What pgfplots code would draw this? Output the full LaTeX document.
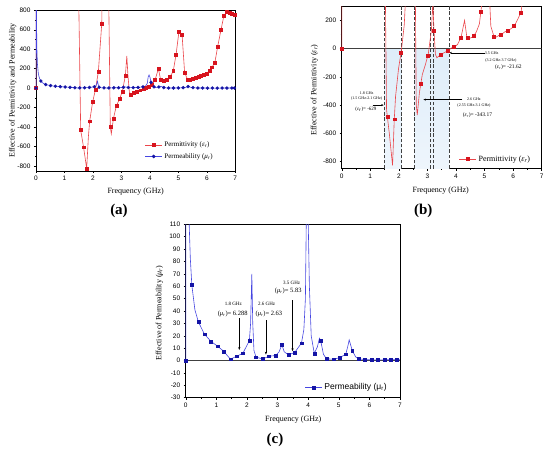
\documentclass[border=0pt]{standalone}
\usepackage{fontspec}
\setmainfont{Liberation Serif}
\setsansfont{Liberation Sans}
\usepackage{pgfplots}
\usepackage{pgfplotstable}
\pgfplotsset{compat=1.18}
\usetikzlibrary{arrows.meta}

\definecolor{cRedLine}{RGB}{235,70,75}
\definecolor{cRedMark}{RGB}{215,20,30}
\definecolor{cBlueLine}{RGB}{70,70,225}
\definecolor{cBlueMark}{RGB}{20,20,165}
\definecolor{cShade}{RGB}{222,237,249}
\definecolor{cShadeB}{RGB}{238,245,252}

% permittivity curve (shared by a and b)
\pgfplotstableread{
f v
0 0
0.02 3000
1.45 3000
1.47 1500
1.57 -432
1.67 -607
1.78 -827
1.84 -500
1.885 -340
1.99 -141
2.085 -20
2.19 168
2.31 665
2.36 2000
2.50 2000
2.53 1500
2.61 -398
2.645 -470
2.72 -312
2.82 -185
2.93 -113
3.03 -38
3.14 130
3.19 330
3.23 128
3.28 -40
3.33 -65
3.43 -48
3.54 -34
3.66 -21
3.77 -7
3.86 7
3.97 14
4.06 31
4.18 82
4.30 200
4.38 82
4.47 72
4.59 82
4.71 117
4.82 175
4.92 345
5.02 580
5.13 552
5.22 158
5.33 85
5.41 82
5.50 93
5.61 103
5.70 117
5.79 127
5.90 137
5.99 151
6.09 178
6.18 215
6.28 260
6.38 425
6.50 604
6.60 744
6.70 785
6.79 779
6.88 761
7.00 752
}\tEpsLine

% permittivity markers, panel (a)
\pgfplotstableread{
f v
0 0
1.57 -432
1.67 -607
1.78 -827
1.885 -340
1.99 -141
2.085 -20
2.19 168
2.31 665
2.61 -398
2.72 -312
2.82 -185
2.93 -113
3.03 -38
3.14 130
3.33 -65
3.43 -48
3.54 -34
3.66 -21
3.77 -7
3.86 7
3.97 14
4.06 31
4.18 82
4.30 200
4.38 82
4.47 72
4.59 82
4.71 117
4.82 175
4.92 345
5.02 580
5.13 552
5.22 158
5.33 85
5.41 82
5.50 93
5.61 103
5.70 117
5.79 127
5.90 137
5.99 151
6.09 178
6.18 215
6.28 260
6.38 425
6.50 604
6.60 744
6.70 785
6.79 779
6.88 761
6.97 753
}\tEpsMarkA

% permittivity markers, panel (b)
\pgfplotstableread{
f v
0 0
1.60 -485
1.84 -500
2.08 -26
2.77 -248
3.01 -53
3.23 128
3.47 -43
3.70 -16
3.93 12
4.17 78
4.40 80
4.63 94
4.87 260
5.33 85
5.57 100
5.80 128
6.03 160
6.27 256
}\tEpsMarkB

% permeability curve (shared by a and c)
\pgfplotstableread{
f v
0 0
0.008 1600
0.015 830
0.03 415
0.05 250
0.08 156
0.11 113
0.15 83
0.2 61
0.3 41
0.41 31.5
0.61 21.3
0.83 15.4
1.04 11.6
1.24 7.5
1.46 1.1
1.67 3.5
1.87 5.9
2.08 16.2
2.12 30
2.16 70
2.19 30
2.23 8
2.3 2.7
2.52 1.3
2.72 3.5
2.93 4
3.05 7
3.14 12.7
3.22 7
3.36 4.6
3.56 6.5
3.78 14
3.86 25
3.91 50
3.94 115
3.97 135
4.0 115
4.04 60
4.1 20
4.2 5.7
4.3 11
4.37 18
4.41 15.9
4.5 5
4.6 1.3
4.82 1.1
5.02 2.2
5.23 5.1
5.3 12
5.34 16.7
5.44 8.1
5.55 3
5.66 1.3
5.86 0.8
6.08 0.5
6.28 0.5
6.5 0.5
6.7 0.8
6.9 0.8
7.0 0.8
}\tMuLine

% permeability markers, panel (a)
\pgfplotstableread{
f v
0 0
0.171 73
0.341 37
0.512 26
0.683 19.3
0.854 15
1.024 11.8
1.195 8.5
1.366 4
1.537 2
1.707 3.8
1.878 6.5
2.049 14
2.22 9
2.39 2
2.561 1.8
2.732 3.5
2.902 4
3.073 8.5
3.244 6.5
3.415 5
3.585 7
3.756 13
4.04 60
4.146 13
4.317 12
4.488 6
4.659 1.3
4.829 1.1
5.0 2.1
5.171 4.3
5.341 16
5.512 5
5.683 1.2
5.854 0.8
6.024 0.6
6.195 0.5
6.366 0.5
6.537 0.5
6.707 0.8
6.878 0.8
6.97 0.8
}\tMuMarkA

% permeability markers, panel (c)
\pgfplotstableread{
f v
0 0
0.2 61
0.41 31.5
0.61 21.3
0.83 15.4
1.04 11.6
1.24 7.5
1.46 1.1
1.67 3.5
1.87 5.9
2.08 16.2
2.3 2.7
2.52 1.3
2.72 3.5
2.93 4
3.14 12.7
3.36 4.6
3.56 6.5
3.78 14
3.97 135
4.2 5.7
4.41 15.9
4.6 1.3
4.82 1.1
5.02 2.2
5.23 5.1
5.44 8.1
5.66 1.3
5.86 0.8
6.08 0.5
6.28 0.5
6.5 0.5
6.7 0.8
6.9 0.8
}\tMuMarkC

\pgfplotsset{
  panel/.style={
    scale only axis, anchor=north west,
    xmin=0, xmax=7, xtick={0,1,...,7}, minor x tick num=1,
    tick align=outside, tick pos=left,
    major tick length=2pt, minor tick length=1.2pt,
    every tick/.style={black, line width=0.4pt},
    axis line style={line width=0.5pt},
    ticklabel style={font=\sffamily\fontsize{6.5}{7}\selectfont},
    /pgf/number format/assume math mode=true,
    label style={font=\fontsize{8}{9}\selectfont},
    legend cell align=left,
    legend style={draw=none, fill=none, inner sep=1pt, row sep=1pt},
  },
  epsline/.style={color=cRedLine, line width=0.6pt, no marks},
  epsmark/.style={only marks, mark=square*, mark size=1.45pt, color=cRedMark},
  muline/.style={color=cBlueLine, line width=0.6pt, no marks},
}

\begin{document}
\begin{tikzpicture}
\path[use as bounding box] (0,0) rectangle (550pt,-454pt);

% ---------------- (a) ----------------
\begin{axis}[panel,
  at={(36pt,-10.3pt)}, width=199.3pt, height=160.5pt,
  ymin=-850, ymax=800, ytick={-800,-600,...,800}, minor y tick num=1,
  xlabel={Frequency (GHz)},
  ylabel={Effective of Permittivity and Permeability},
  xlabel style={at={(axis description cs:0.5,-0.13)}, anchor=center},
  ylabel style={at={(axis description cs:-0.117,0.5)}, anchor=center},
  legend style={at={(0.54,0.2)}, anchor=north west, font=\fontsize{7}{8}\selectfont},
]
\addlegendimage{color=cRedLine, line width=0.6pt, mark=square*, mark size=1.45pt, mark options={color=cRedMark}}
\addlegendentry{Permittivity (\textit{ε}\textsubscript{\textit{r}})}
\addlegendimage{color=cBlueLine, line width=0.6pt, mark=*, mark size=1.5pt, mark options={color=cBlueMark}}
\addlegendentry{Permeability (\textit{μ}\textsubscript{\textit{r}})}
\addplot[epsline, forget plot] table[x=f, y=v] {\tEpsLine};
\addplot[epsmark, forget plot] table[x=f, y=v] {\tEpsMarkA};
\addplot[muline, forget plot] table[x=f, y=v] {\tMuLine};
\addplot[only marks, mark=*, mark size=1.5pt, color=cBlueMark, forget plot] table[x=f, y=v] {\tMuMarkA};
\end{axis}

% ---------------- (b) ----------------
\begin{axis}[panel,
  at={(341.7pt,-6.2pt)}, width=200pt, height=162.5pt,
  ymin=-850, ymax=300, ytick={-800,-600,...,200}, minor y tick num=1,
  xlabel={Frequency (GHz)},
  ylabel={Effective of Permittivity (\textit{ε}\textsubscript{\textit{r}})},
  xlabel style={at={(axis description cs:0.495,-0.137)}, anchor=center},
  ylabel style={at={(axis description cs:-0.137,0.484)}, anchor=center},
  legend style={at={(0.58,0.1)}, anchor=north west, font=\fontsize{8}{9}\selectfont},
]
\fill[top color=cShade, bottom color=cShadeB] (axis cs:1.5,0) rectangle (axis cs:2.1,-850);
\fill[top color=cShade, bottom color=cShadeB] (axis cs:2.55,0) rectangle (axis cs:3.75,-850);
\draw[black!75, line width=0.7pt] (axis cs:0,0) -- (axis cs:7,0);
\foreach \xx in {1.5,2.1,2.55,3.1,3.22,3.75}{
  \edef\tmp{\noexpand\draw[black!75, line width=0.5pt, dash pattern=on 3.5pt off 1.8pt] (axis cs:\xx,-850) -- (axis cs:\xx,300);}\tmp
}
\addlegendimage{color=cRedLine, line width=0.6pt, mark=square*, mark size=1.45pt, mark options={color=cRedMark}}
\addlegendentry{Permittivity (\textit{ε}\textsubscript{\textit{r}})}
\addplot[epsline, forget plot] table[x=f, y=v] {\tEpsLine};
\addplot[epsmark, forget plot] table[x=f, y=v] {\tEpsMarkB};
% annotations
\node[font=\fontsize{4}{4.5}\selectfont] at (axis cs:0.875,-314) {1.8 GHz};
\node[font=\fontsize{4}{4.5}\selectfont] at (axis cs:0.875,-356) {(1.5 GHz-2.1 GHz)};
\node[font=\fontsize{5}{6}\selectfont] at (axis cs:0.85,-432) {(\textit{ε}\textsubscript{\textit{r}})= -629};
\draw[-{Stealth[length=2.5pt,width=2pt]}, line width=0.4pt] (axis cs:1.08,-400) -- (axis cs:1.47,-400);
\node[font=\fontsize{4}{4.5}\selectfont] at (axis cs:4.63,-361) {2.6 GHz};
\node[font=\fontsize{4}{4.5}\selectfont] at (axis cs:4.63,-405) {(2.55 GHz-3.1 GHz)};
\node[font=\fontsize{5.5}{6}\selectfont] at (axis cs:4.75,-470) {(\textit{ε}\textsubscript{\textit{r}})= -343.17};
\draw[-{Stealth[length=2.5pt,width=2pt]}, line width=0.4pt] (axis cs:4.22,-361) -- (axis cs:2.86,-361);
\node[font=\fontsize{4}{4.5}\selectfont] at (axis cs:5.25,-30) {3.5 GHz};
\node[font=\fontsize{4}{4.5}\selectfont] at (axis cs:5.57,-82) {(3.2 GHz-3.7 GHz)};
\node[font=\fontsize{5.5}{6}\selectfont] at (axis cs:5.83,-135) {(\textit{ε}\textsubscript{\textit{r}})= -21.62};
\draw[-{Stealth[length=2.5pt,width=2pt]}, line width=0.4pt] (axis cs:5.0,-30) -- (axis cs:3.77,-30);
\end{axis}

% ---------------- (c) ----------------
\begin{axis}[panel,
  at={(185.7pt,-224.3pt)}, width=214.3pt, height=173.4pt,
  ymin=-30, ymax=110, ytick={-30,-20,...,110},
  xlabel={Frequency (GHz)},
  ylabel={Effective of Permeability (\textit{μ}\textsubscript{\textit{r}})},
  xlabel style={at={(axis description cs:0.502,-0.129)}, anchor=center},
  ylabel style={at={(axis description cs:-0.123,0.488)}, anchor=center},
  legend style={at={(0.55,0.1)}, anchor=north west, font=\sffamily\fontsize{8.5}{9}\selectfont},
]
\draw[black!75, line width=0.7pt] (axis cs:0,0) -- (axis cs:7,0);
\addlegendimage{color=cBlueLine, line width=0.6pt, mark=square*, mark size=1.45pt, mark options={color=cBlueMark}}
\addlegendentry{Permeability (μ\textsubscript{r})}
\addplot[muline, forget plot] table[x=f, y=v] {\tMuLine};
\addplot[only marks, mark=square*, mark size=1.45pt, color=cBlueMark, forget plot] table[x=f, y=v] {\tMuMarkC};
\node[font=\fontsize{5}{6}\selectfont] at (axis cs:1.555,45.5) {1.8 GHz};
\node[font=\fontsize{6.5}{7}\selectfont] at (axis cs:1.535,38) {(\textit{μ}\textsubscript{\textit{r}})= 6.288};
\draw[-{Stealth[length=3pt,width=2.2pt]}, line width=0.4pt] (axis cs:1.75,34) -- (axis cs:1.75,8.5);
\node[font=\fontsize{5}{6}\selectfont] at (axis cs:2.645,45.5) {2.6 GHz};
\node[font=\fontsize{6.5}{7}\selectfont] at (axis cs:2.72,38) {(\textit{μ}\textsubscript{\textit{r}})= 2.63};
\draw[-{Stealth[length=3pt,width=2.2pt]}, line width=0.4pt] (axis cs:2.62,32.6) -- (axis cs:2.62,4.8);
\node[font=\fontsize{5}{6}\selectfont] at (axis cs:3.46,63) {3.5 GHz};
\node[font=\fontsize{6.5}{7}\selectfont] at (axis cs:3.35,56.3) {(\textit{μ}\textsubscript{\textit{r}})= 5.83};
\draw[-{Stealth[length=3pt,width=2.2pt]}, line width=0.4pt] (axis cs:3.49,48.7) -- (axis cs:3.49,7.5);
\end{axis}

\node[font=\bfseries\fontsize{15}{16}\selectfont] at (119pt,-210.7pt) {(a)};
\node[font=\bfseries\fontsize{15}{16}\selectfont] at (423.3pt,-210.7pt) {(b)};
\node[font=\bfseries\fontsize{15}{16}\selectfont] at (275pt,-440pt) {(c)};
\end{tikzpicture}
\end{document}
